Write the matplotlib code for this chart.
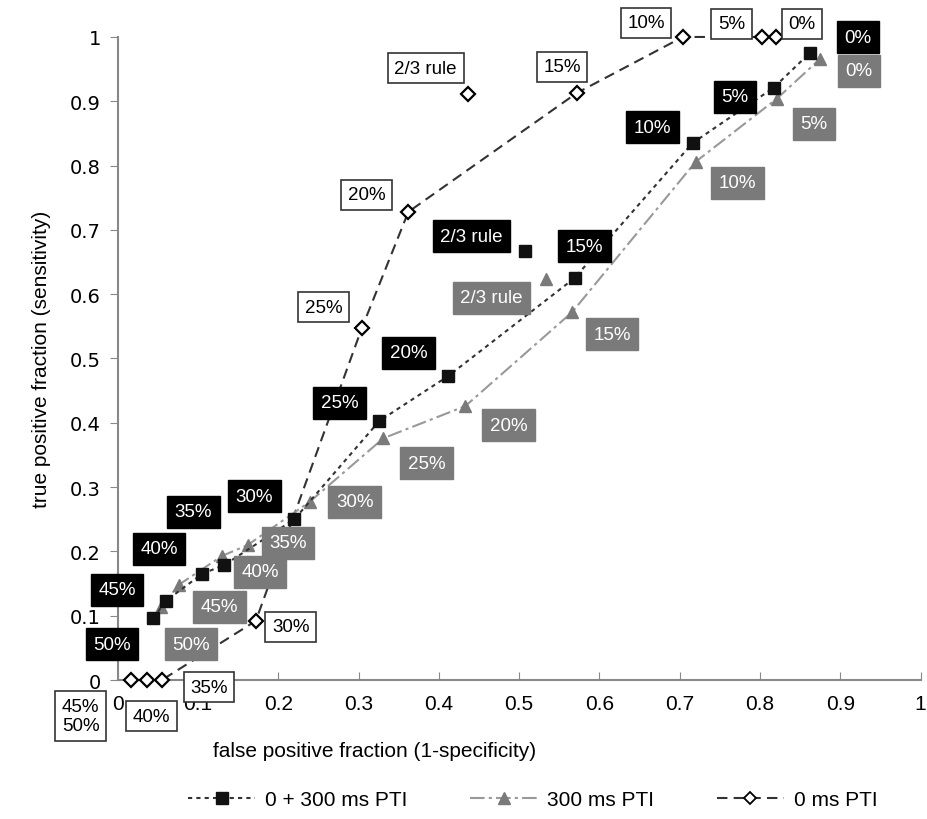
import matplotlib.pyplot as plt
from matplotlib.lines import Line2D

plt.rcParams['font.family'] = ['Liberation Sans', 'DejaVu Sans']

# 0 + 300 ms PTI (black squares)
fpr_comb = [0.044, 0.060, 0.105, 0.133, 0.220, 0.326, 0.412, 0.569, 0.716, 0.817, 0.862]
tpr_comb = [0.096, 0.123, 0.165, 0.179, 0.250, 0.403, 0.473, 0.625, 0.835, 0.921, 0.975]
lab_comb = ['50%', '45%', '40%', '35%', '30%', '25%', '20%', '15%', '10%', '5%', '0%']
rule_comb = (0.507, 0.667)

# 300 ms PTI (grey triangles)
fpr_300 = [0.054, 0.076, 0.130, 0.162, 0.239, 0.331, 0.433, 0.566, 0.720, 0.821, 0.875]
tpr_300 = [0.113, 0.148, 0.193, 0.210, 0.277, 0.376, 0.426, 0.572, 0.806, 0.904, 0.966]
lab_300 = ['50%', '45%', '40%', '35%', '30%', '25%', '20%', '15%', '10%', '5%', '0%']
rule_300 = (0.534, 0.624)

# 0 ms PTI (open diamonds)
fpr_0 = [0.016, 0.036, 0.055, 0.172, 0.304, 0.362, 0.572, 0.704, 0.802, 0.820]
tpr_0 = [0.0, 0.0, 0.0, 0.092, 0.547, 0.728, 0.913, 1.0, 1.0, 1.0]
lab_0 = ['45%\n50%', '40%', '35%', '30%', '25%', '20%', '15%', '10%', '5%', '0%']
rule_0 = (0.436, 0.911)

# label offsets in pixels (dx, dy)
off_comb = [(-41, -26), (-49, 11), (-43, 25), (-31, 53), (-40, 23), (-40, 18),
            (-40, 23), (10, 32), (-40, 16), (-39, -9), (48, 16)]
off_300 = [(30, -37), (41, -22), (38, -16), (40, 2), (45, 0), (43, -25),
           (43, -19), (40, -22), (42, -21), (37, -25), (39, -12)]
off_0 = [(-50, -36), (5, -36), (47, -7), (35, -6), (-38, 21), (-42, 17),
         (-15, 26), (-37, 14), (-30, 13), (26, 13)]
off_rule = {'comb': (-53, 15), '300': (-55, -19), '0': (-42, 26)}

GREY = '#7a7a7a'
box_black = dict(boxstyle='square,pad=0.4', fc='black', ec='black')
box_grey = dict(boxstyle='square,pad=0.4', fc=GREY, ec=GREY)
box_white = dict(boxstyle='square,pad=0.35', fc='white', ec='#333333', lw=1.2)

fig = plt.figure(figsize=(9.27, 8.2), dpi=100)
ax = fig.add_axes([0.127, 0.1695, 0.866, 0.7842])

ls_comb = (0, (2, 2))
ls_300 = (0, (7, 2, 1.5, 2))
ls_0 = (0, (5, 3))

ax.plot(fpr_0, tpr_0, color='#333333', lw=1.5, ls=ls_0, marker='D', ms=7,
        mfc='white', mec='black', mew=1.6, zorder=3, clip_on=False)
ax.plot(*rule_0, marker='D', ms=7, mfc='white', mec='black', mew=1.6, zorder=3)
ax.plot(fpr_300, tpr_300, color='#999999', lw=1.5, ls=ls_300, marker='^', ms=9,
        mfc=GREY, mec=GREY, zorder=3, clip_on=False)
ax.plot(*rule_300, marker='^', ms=9, mfc=GREY, mec=GREY, zorder=3)
ax.plot(fpr_comb, tpr_comb, color='#333333', lw=1.5, ls=ls_comb, marker='s', ms=9,
        mfc='#111111', mec='#111111', zorder=4, clip_on=False)
ax.plot(*rule_comb, marker='s', ms=9, mfc='#111111', mec='#111111', zorder=4)

fs = 13.5
for x, y, t, o in zip(fpr_comb, tpr_comb, lab_comb, off_comb):
    ax.annotate(t, (x, y), xytext=o, textcoords='offset pixels', ha='center', va='center',
                color='white', fontsize=fs, bbox=box_black, zorder=5)
ax.annotate('2/3 rule', rule_comb, xytext=off_rule['comb'], textcoords='offset pixels',
            ha='center', va='center', color='white', fontsize=fs, bbox=box_black, zorder=5)
for x, y, t, o in zip(fpr_300, tpr_300, lab_300, off_300):
    ax.annotate(t, (x, y), xytext=o, textcoords='offset pixels', ha='center', va='center',
                color='white', fontsize=fs, bbox=box_grey, zorder=5)
ax.annotate('2/3 rule', rule_300, xytext=off_rule['300'], textcoords='offset pixels',
            ha='center', va='center', color='white', fontsize=fs, bbox=box_grey, zorder=5)
for x, y, t, o in zip(fpr_0, tpr_0, lab_0, off_0):
    ax.annotate(t, (x, y), xytext=o, textcoords='offset pixels', ha='center', va='center',
                color='black', fontsize=fs, bbox=box_white, zorder=5, linespacing=1.15,
                annotation_clip=False)
ax.annotate('2/3 rule', rule_0, xytext=off_rule['0'], textcoords='offset pixels',
            ha='center', va='center', color='black', fontsize=fs, bbox=box_white, zorder=5)

ax.set_xlim(0, 1)
ax.set_ylim(0, 1)
ax.set_xticks([i / 10 for i in range(11)])
ax.set_yticks([i / 10 for i in range(11)])
ax.set_xticklabels(['0'] + ['%.1f' % (i / 10) for i in range(1, 10)] + ['1'], fontsize=15)
ax.set_yticklabels(['0'] + ['%.1f' % (i / 10) for i in range(1, 10)] + ['1'], fontsize=14,
                   family='DejaVu Sans')
for s in ['top', 'right']:
    ax.spines[s].set_visible(False)
for s in ['left', 'bottom']:
    ax.spines[s].set_color('#888888')
    ax.spines[s].set_linewidth(1.5)
ax.tick_params(axis='x', direction='in', length=6, color='#888888', pad=10)
ax.tick_params(axis='y', direction='out', length=6, color='#888888', pad=6)

ax.set_xlabel('false positive fraction (1-specificity)', fontsize=15, labelpad=14)
ax.set_ylabel('true positive fraction (sensitivity)', fontsize=15, labelpad=14)
ax.xaxis.set_label_coords(0.32, -0.095)

handles = [
    Line2D([], [], color='#333333', ls=ls_comb, lw=1.5, marker='s', ms=8, mfc='#111111', mec='#111111'),
    Line2D([], [], color='#999999', ls=ls_300, lw=1.5, marker='^', ms=8, mfc=GREY, mec=GREY),
    Line2D([], [], color='#333333', ls=ls_0, lw=1.5, marker='D', ms=6, mfc='white', mec='black', mew=1.3),
]
fig.legend(handles, ['0 + 300 ms PTI', '300 ms PTI', '0 ms PTI'], loc='center',
           bbox_to_anchor=(0.575, 0.024), ncol=3, frameon=False, fontsize=15,
           handlelength=3.2, columnspacing=3.0, handletextpad=0.5)

fig.savefig('out.png', dpi=100)
